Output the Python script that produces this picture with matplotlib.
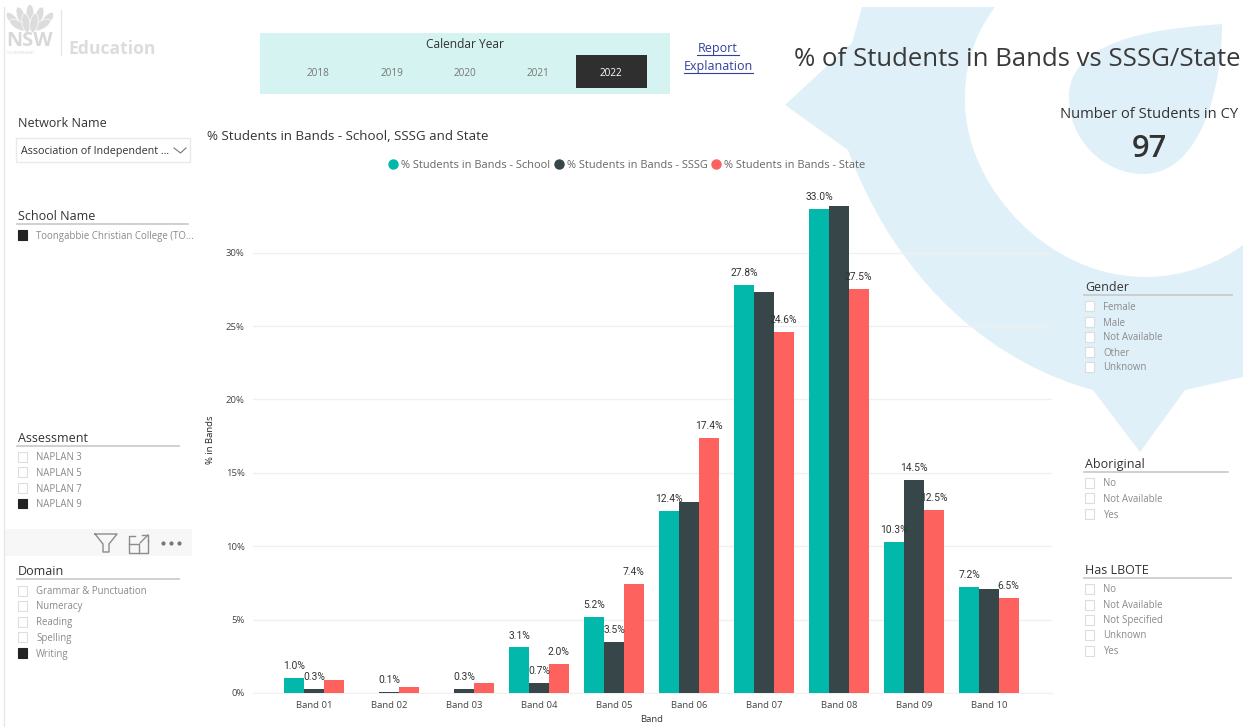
import numpy as np
import matplotlib
matplotlib.use('Agg')
import matplotlib.pyplot as plt
from matplotlib.path import Path
from matplotlib.patches import PathPatch, Rectangle, Ellipse
from matplotlib.lines import Line2D

plt.rcParams['font.family'] = ['Open Sans', 'DejaVu Sans']

bands = ['Band 01', 'Band 02', 'Band 03', 'Band 04', 'Band 05',
         'Band 06', 'Band 07', 'Band 08', 'Band 09', 'Band 10']
school = [1.0, 0.0, 0.0, 3.1, 5.2, 12.4, 27.8, 33.0, 10.3, 7.2]
sssg = [0.3, 0.1, 0.3, 0.7, 3.5, 13.0, 27.3, 33.2, 14.5, 7.1]
state = [0.9, 0.4, 0.7, 2.0, 7.4, 17.4, 24.6, 27.5, 12.5, 6.5]

# Power BI hides the labels that would collide, so only these ones are shown
school_labels = ['1.0%', '', '', '3.1%', '5.2%', '12.4%', '27.8%', '33.0%', '10.3%', '7.2%']
sssg_labels = ['0.3%', '0.1%', '0.3%', '0.7%', '3.5%', '', '', '', '14.5%', '']
state_labels = ['', '', '', '2.0%', '7.4%', '17.4%', '24.6%', '27.5%', '12.5%', '6.5%']

yticks = [0, 5, 10, 15, 20, 25, 30]
years = ['2018', '2019', '2020', '2021', '2022']
legend_names = ['% Students in Bands - School', '% Students in Bands - SSSG', '% Students in Bands - State']

TEAL = '#01B8AA'
DARK = '#374649'
RED = '#FD625E'
PALE = '#DFF0F8'
W, H = 1243, 727
PT = 0.72  # px to pt at dpi 100

fig = plt.figure(figsize=(W / 100, H / 100), dpi=100, facecolor='white')

# page layer in pixel coordinates
bg = fig.add_axes([0, 0, 1, 1], zorder=0)
bg.set_xlim(0, W)
bg.set_ylim(H, 0)
bg.axis('off')


def txt(x, y, s, px, color='#333333', ha='left', **kw):
    # +1.5 because va=center sits a bit high with this font
    bg.text(x, y + 1.5, s, fontsize=px * PT, color=color, ha=ha, va='center', **kw)


def curve(points, color, z=1):
    # first point is a move, the others are cubic segments of three points
    codes = [Path.MOVETO]
    verts = [points[0]]
    for seg in points[1:]:
        if len(seg) == 2 and not isinstance(seg[0], tuple):
            codes.append(Path.LINETO)
            verts.append(seg)
        else:
            codes += [Path.CURVE4] * 3
            verts += list(seg)
    codes.append(Path.CLOSEPOLY)
    verts.append(verts[0])
    bg.add_patch(PathPatch(Path(verts, codes), fc=color, ec='none', zorder=z))


# big pale logo shape behind the chart
curve([(862, 7), (995, 7),
       ((970, 40), (964, 75), (965, 105)),
       ((968, 190), (1050, 277), (1145, 277)),
       ((1185, 277), (1220, 262), (1243, 245)),
       (1243, 377), (1185, 390), (1140, 452), (1093, 390),
       ((1000, 365), (900, 290), (848, 150)),
       (785, 105), (852, 43)], PALE)
curve([(1222, 24),
       ((1170, 28), (1075, 35), (1069, 92)),
       ((1066, 140), (1105, 174), (1143, 174)),
       ((1200, 174), (1222, 90), (1222, 24))], PALE)

# left border
bg.plot([4.5, 4.5], [7, 727], color='#E6E6E6', lw=1)

# logo
for dx, dy, ang in [(-17, -2, 40), (-9, -6, 20), (0, -8, 0), (9, -6, -20), (17, -2, -40),
                    (-12, 3, 60), (12, 3, -60), (-4, 1, 10), (4, 1, -10)]:
    bg.add_patch(Ellipse((30 + dx, 22 + dy), 8, 19, angle=-ang, fc='#DCDCDC', ec='white', lw=0.5))
txt(6, 40, 'NSW', 20, color='#D8D8D8', fontweight='bold')
txt(7, 51.5, 'GOVERNMENT', 4.2, color='#DADADA')
bg.plot([61.5, 61.5], [10, 55], color='#E6E6E6', lw=1)
txt(68, 47.5, 'Education', 17.5, color='#DCDCDC', fontweight='bold')

# year slicer
bg.add_patch(Rectangle((260, 33), 410, 61, fc='#D5F3F1', ec='none', zorder=2))
bg.add_patch(Rectangle((576, 55), 71, 33, fc='#2F2F2F', ec='none', zorder=3))
bg.text(465, 44, 'Calendar Year', fontsize=12 * PT, color='#333333', ha='center', va='center', zorder=4)
for cx, year in zip([318, 392, 465, 538, 611], years):
    bg.text(cx, 73, year, fontsize=10 * PT, color='white' if year == '2022' else '#777777',
            ha='center', va='center', zorder=4)

# report link
LINK = '#33409A'
txt(718, 47, 'Report', 12.5, color=LINK, ha='center')
txt(718, 65, 'Explanation', 12.5, color=LINK, ha='center')
bg.plot([697, 739], [55, 55], color=LINK, lw=0.8)
bg.plot([684, 753], [73, 73], color=LINK, lw=0.8)

bg.text(794, 59, '% of Students in Bands vs SSSG/State', fontsize=25.7 * PT, color='#3A3A3A',
        va='center', zorder=4)
bg.text(1149, 114, 'Number of Students in CY', fontsize=14.7 * PT, color='#333333',
        ha='center', va='center', zorder=4)
bg.text(1149, 149, '97', fontsize=31 * PT, color='#333333', ha='center', va='center',
        fontweight='semibold', zorder=4)
bg.text(207, 137, '% Students in Bands - School, SSSG and State', fontsize=13.4 * PT, color='#333333',
        va='center', zorder=4)


def slicer(x, y, title, x_end, line_y, items, item_ys, selected=()):
    bg.text(x + 1, y + 1.5, title, fontsize=12.5 * PT, color='#333333', va='center', zorder=4)
    bg.plot([x, x_end], [line_y, line_y], color='#C8C8C8', lw=1.2, zorder=4)
    for name, iy in zip(items, item_ys):
        on = name in selected
        bg.add_patch(Rectangle((x + 1, iy - 5), 9.5, 9.5, fc='#222222' if on else 'white',
                               ec='#222222' if on else '#DDDDDD', lw=0.8, zorder=4))
        bg.text(x + 19, iy + 1, name, fontsize=9.7 * PT, color='#8A8A8A', va='center', zorder=4)


txt(18, 122, 'Network Name', 12.5)
bg.add_patch(Rectangle((16, 138), 174, 24, fc='white', ec='#EAEAEA', lw=1))
txt(21, 150, 'Association of Independent ...', 10.8)
bg.plot([174, 180.5, 186], [148, 153, 148], color='#777777', lw=0.8)

slicer(17, 215, 'School Name', 188, 223.5, ['Toongabbie Christian College (TO...'], [235],
       ['Toongabbie Christian College (TO...'])
slicer(17, 437, 'Assessment', 179, 445.5, ['NAPLAN 3', 'NAPLAN 5', 'NAPLAN 7', 'NAPLAN 9'],
       [457, 472, 488, 503.5], ['NAPLAN 9'])
slicer(17, 570, 'Domain', 179, 579, ['Grammar & Punctuation', 'Numeracy', 'Reading', 'Spelling', 'Writing'],
       [591, 606, 622, 637, 653], ['Writing'])
slicer(1084, 286, 'Gender', 1232, 294.5, ['Female', 'Male', 'Not Available', 'Other', 'Unknown'],
       [306, 322, 337, 352, 367])
slicer(1084, 463, 'Aboriginal', 1228, 471.5, ['No', 'Not Available', 'Yes'], [483, 498, 514])
slicer(1084, 569, 'Has LBOTE', 1231, 578, ['No', 'Not Available', 'Not Specified', 'Unknown', 'Yes'],
       [589, 605, 620, 635, 651])

# visual header icons
bg.add_patch(Rectangle((5, 529), 187, 27, fc='#F7F7F7', ec='none'))
bg.plot([95, 117, 109, 109, 103, 103, 95], [534, 534, 544, 552, 552, 544, 534], color='#8C8C8C', lw=1)
bg.plot([148, 148, 129, 129, 135], [540, 553, 553, 536, 536], color='#8C8C8C', lw=1)
bg.plot([129, 139, 139], [544, 544, 553], color='#8C8C8C', lw=1)
bg.plot([140, 148], [543, 535], color='#8C8C8C', lw=1)
bg.plot([142, 148, 148], [535, 535, 541], color='#8C8C8C', lw=1)
bg.plot([163, 171, 179.5], [543, 543, 543], ls='none', marker='o', ms=2, color='#777777')

# chart, placed so that 0% and 30% fall on the same pixels as the reference
left, right, top, bottom = 253, 1052, 190, 693
ax = fig.add_axes([left / W, 1 - bottom / H, (right - left) / W, (bottom - top) / H], zorder=2)
ax.patch.set_alpha(0)
x = np.arange(len(bands))
bar_w = 19.7 / 75
rows = [(school, TEAL, -bar_w, school_labels), (sssg, DARK, 0, sssg_labels), (state, RED, bar_w, state_labels)]
for values, color, off, labels in rows:
    bars = ax.bar(x + off, values, bar_w, color=color, zorder=3)
    ax.bar_label(bars, labels=labels, padding=5, fontsize=10.3 * PT, color='#333333',
                 family=['Roboto', 'DejaVu Sans'], zorder=5)

ax.set_xlim((left - 314) / 75, (right - 314) / 75)
ax.set_ylim(0, (bottom - top) / 14.68)
ax.set_yticks(yticks)
ax.set_yticklabels([f'{v}%' for v in yticks])
ax.set_xticks(x)
ax.set_xticklabels(bands)
ax.tick_params(length=0, labelsize=9.5 * PT, labelcolor='#444444')
ax.tick_params(axis='y', pad=6)
ax.tick_params(axis='x', pad=6)
ax.grid(axis='y', color='#F0F0F0', lw=1, zorder=0)
ax.set_axisbelow(True)
for s in ax.spines.values():
    s.set_visible(False)
ax.spines['bottom'].set_visible(True)
ax.spines['bottom'].set_color('#F0F0F0')
for lab in ax.get_xticklabels() + ax.get_yticklabels():
    lab.set_family(['Open Sans', 'DejaVu Sans'])

txt(652, 718, 'Band', 9.5, ha='center')
bg.text(211, 440, '% in Bands', fontsize=9.5 * PT, color='#222222', ha='center', va='center', rotation=90, zorder=4)

handles = [Line2D([], [], ls='none', marker='o', ms=6.5, color=c) for c in (TEAL, DARK, RED)]
fig.legend(handles, legend_names, loc='center', bbox_to_anchor=(626.5 / W, 1 - 165 / H), ncol=3, frameon=False,
           fontsize=11 * PT, labelcolor='#666666', handlelength=1, handletextpad=0.23, columnspacing=0.3,
           borderpad=0)

fig.savefig('out.png', dpi=100)
